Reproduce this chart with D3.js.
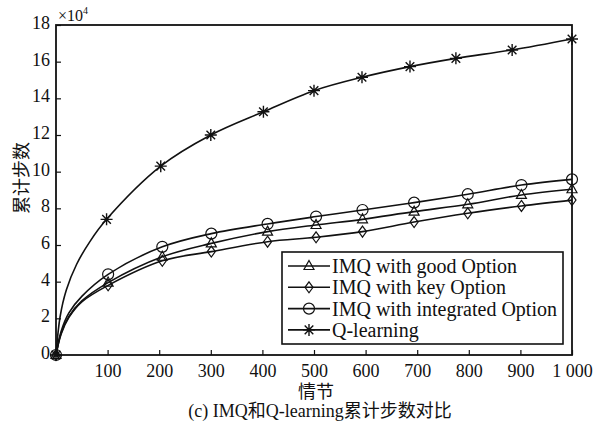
<!DOCTYPE html>
<html>
<head>
<meta charset="utf-8">
<script src="https://cdn.jsdelivr.net/npm/d3@7"></script>
<style>
body { margin: 0; background: #fff; }
text { font-family: "Liberation Serif", "Noto Sans CJK SC", serif; fill: #111; }
</style>
</head>
<body>
<script>
// data (values in units of 10^4 steps)
var imqEpisodes = [0, 10, 25, 50, 101, 206, 301, 410, 504, 594, 694, 798, 902, 1000];
var goodSteps = [0, 1.2, 2.1, 2.95, 3.95, 5.36, 6.09, 6.73, 7.09, 7.4, 7.82, 8.22, 8.73, 9.04];
var keySteps = [0, 1.15, 2.05, 2.9, 3.8, 5.14, 5.64, 6.18, 6.42, 6.73, 7.25, 7.73, 8.13, 8.45];
var integratedSteps = [0, 1.3, 2.3, 3.2, 4.4, 5.9, 6.62, 7.15, 7.55, 7.91, 8.31, 8.77, 9.27, 9.58];
var qEpisodes = [0, 8, 20, 40, 66, 98, 203, 300, 402, 500, 593, 686, 775, 884, 1000];
var qSteps = [0, 2.1, 3.55, 4.95, 6.2, 7.4, 10.3, 12.0, 13.27, 14.42, 15.15, 15.73, 16.18, 16.64, 17.24];
var xTicks = [100, 200, 300, 400, 500, 600, 700, 800, 900, 1000];
var yTicks = [0, 2, 4, 6, 8, 10, 12, 14, 16, 18];
var seriesNames = ['IMQ with good Option', 'IMQ with key Option', 'IMQ with integrated Option', 'Q-learning'];

var chart = {
  width: 595,
  height: 425,
  left: 56,
  right: 572,
  top: 25,
  bottom: 355
};

var svg = d3.select('body').append('svg').attr('width', chart.width).attr('height', chart.height);

var x = d3.scaleLinear().domain([0, 1000]).range([chart.left, chart.right]);
var y = d3.scaleLinear().domain([0, 18]).range([chart.bottom, chart.top]);

var build = function(episodes, steps, symbol) {
  return {
    symbol: symbol,
    points: episodes.map(function(e, i) {
      return { ep: e, v: steps[i], mark: e === 0 || e >= 95 };
    })
  };
};

var series = [
  build(imqEpisodes, goodSteps, 'triangle'),
  build(imqEpisodes, keySteps, 'diamond'),
  build(imqEpisodes, integratedSteps, 'circle'),
  build(qEpisodes, qSteps, 'star')
];

// axes
var xAxis = d3.axisBottom(x).tickValues(xTicks).tickSizeInner(-5).tickSizeOuter(0).tickPadding(9)
  .tickFormat(function(d) { return d === 1000 ? '1 000' : d; });
var yAxis = d3.axisLeft(y).tickValues(yTicks).tickSizeInner(-5).tickSizeOuter(0).tickPadding(6);

var gx = svg.append('g').attr('transform', 'translate(0,' + chart.bottom + ')').call(xAxis);
var gy = svg.append('g').attr('transform', 'translate(' + chart.left + ',0)').call(yAxis);
[gx, gy].forEach(function(g) {
  g.select('.domain').remove();
  g.selectAll('.tick line').attr('stroke', '#111').attr('stroke-width', 1.2);
  g.selectAll('.tick text').attr('font-size', 18).style('font-family', '"Liberation Serif", serif');
});
gy.selectAll('.tick text').attr('dy', '0.2em');

svg.append('rect').attr('x', chart.left).attr('y', chart.top)
  .attr('width', chart.right - chart.left).attr('height', chart.bottom - chart.top)
  .attr('fill', 'none').attr('stroke', '#111').attr('stroke-width', 1.8);

// lines
var line = d3.line().x(function(d) { return x(d.ep); }).y(function(d) { return y(d.v); }).curve(d3.curveCatmullRom.alpha(0.5));

var drawMarker = function(g, symbol, cx, cy) {
  if (symbol === 'circle') {
    g.append('circle').attr('cx', cx).attr('cy', cy).attr('r', 5.5)
      .attr('fill', 'none').attr('stroke', '#111').attr('stroke-width', 1.2);
  } else if (symbol === 'triangle') {
    g.append('path').attr('d', 'M' + cx + ',' + (cy - 5.5) + 'L' + (cx + 5) + ',' + (cy + 3.5) + 'L' + (cx - 5) + ',' + (cy + 3.5) + 'Z')
      .attr('fill', 'none').attr('stroke', '#111').attr('stroke-width', 1.2);
  } else if (symbol === 'diamond') {
    g.append('path').attr('d', 'M' + cx + ',' + (cy - 5.5) + 'L' + (cx + 4) + ',' + cy + 'L' + cx + ',' + (cy + 5.5) + 'L' + (cx - 4) + ',' + cy + 'Z')
      .attr('fill', 'none').attr('stroke', '#111').attr('stroke-width', 1.2);
  } else {
    var s = 6, d = 4.3;
    g.append('path').attr('d', 'M' + cx + ',' + (cy - s) + 'V' + (cy + s) + 'M' + (cx - s) + ',' + cy + 'H' + (cx + s) +
      'M' + (cx - d) + ',' + (cy - d) + 'L' + (cx + d) + ',' + (cy + d) + 'M' + (cx - d) + ',' + (cy + d) + 'L' + (cx + d) + ',' + (cy - d))
      .attr('fill', 'none').attr('stroke', '#111').attr('stroke-width', 1.4);
  }
};

series.forEach(function(s) {
  var g = svg.append('g');
  g.append('path').datum(s.points).attr('d', line)
    .attr('fill', 'none').attr('stroke', '#111').attr('stroke-width', 1.6);
  s.points.filter(function(p) { return p.mark; }).forEach(function(p) {
    drawMarker(g, s.symbol, x(p.ep), y(p.v));
  });
});

// legend
var legend = svg.append('g');
legend.append('rect').attr('x', 282).attr('y', 252).attr('width', 281).attr('height', 92)
  .attr('fill', '#fff').attr('stroke', '#111').attr('stroke-width', 1.6);
seriesNames.forEach(function(name, i) {
  var ly = 266 + i * 21.3;
  legend.append('line').attr('x1', 288).attr('x2', 330).attr('y1', ly).attr('y2', ly)
    .attr('stroke', '#111').attr('stroke-width', 1.6);
  drawMarker(legend, series[i].symbol, 309, ly);
  legend.append('text').attr('x', 332).attr('y', ly).attr('dy', '0.35em')
    .attr('font-size', 20).text(name);
});

// multiplier
var mult = svg.append('text').attr('x', 58).attr('y', 21).attr('font-size', 16);
mult.append('tspan').text('\u00d710');
mult.append('tspan').attr('font-size', 10).attr('dy', -7).text('4');

// axis titles and caption
svg.append('text').attr('transform', 'translate(28,178) rotate(-90)').attr('text-anchor', 'middle')
  .attr('font-size', 18).text('累计步数');
svg.append('text').attr('x', 316).attr('y', 398).attr('text-anchor', 'middle')
  .attr('font-size', 18).text('情节');
svg.append('text').attr('x', 320).attr('y', 417).attr('text-anchor', 'middle')
  .attr('font-size', 18).text('(c) IMQ和Q-learning累计步数对比');
</script>
</body>
</html>
